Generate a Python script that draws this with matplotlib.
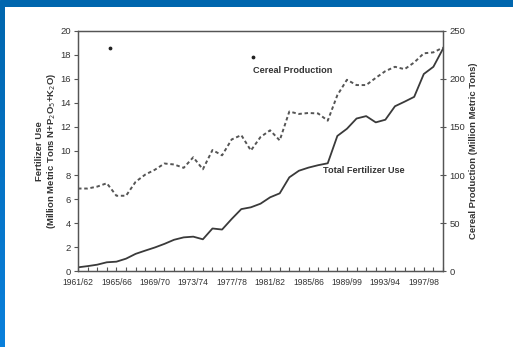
import numpy as np
import matplotlib
matplotlib.use("Agg")
import matplotlib.pyplot as plt
from matplotlib.ticker import MultipleLocator
from matplotlib.colors import LinearSegmentedColormap

plt.rcParams['font.family'] = ['Liberation Sans', 'DejaVu Sans']

# Crop years 1961/62 .. 1999/2000
years = list(range(1961, 2000))
tick_years = [1961, 1965, 1969, 1973, 1977, 1981, 1985, 1989, 1993, 1997]
tick_labels = ["1961/62", "1965/66", "1969/70", "1973/74", "1977/78",
               "1981/82", "1985/86", "1989/99", "1993/94", "1997/98"]

# Total fertilizer use (million metric tons N+P2O5+K2O)
fertilizer = [0.33, 0.43, 0.55, 0.75, 0.80, 1.05, 1.45, 1.72, 1.98, 2.28,
              2.62, 2.82, 2.88, 2.66, 3.56, 3.47, 4.35, 5.17, 5.32, 5.62,
              6.15, 6.48, 7.81, 8.36, 8.62, 8.82, 8.98, 11.25, 11.85, 12.70,
              12.90, 12.38, 12.60, 13.72, 14.10, 14.50, 16.40, 17.00, 18.50]

# Cereal production (million metric tons)
cereal = [86.0, 86.0, 88.0, 91.5, 78.5, 78.5, 93.0, 100.5, 105.5, 112.0,
          111.0, 107.5, 118.5, 106.0, 126.0, 120.5, 137.0, 141.5, 125.5, 139.5,
          146.5, 136.0, 166.0, 163.5, 164.5, 164.0, 156.5, 183.0, 199.0, 193.5,
          193.5, 201.0, 208.0, 212.5, 210.0, 217.0, 226.5, 227.5, 232.5]

fig = plt.figure(figsize=(5.13, 3.47), dpi=100)
fig.patch.set_facecolor("white")

# Blue slide frame: top band and left band with a light gradient
top_ax = fig.add_axes([0, 1 - 7 / 347, 1, 7 / 347])
top_ax.axis("off")
top_ax.add_patch(plt.Rectangle((0, 0), 1, 1, color="#0066ae", transform=top_ax.transAxes))
left_ax = fig.add_axes([0, 0, 5 / 513, 1 - 7 / 347])
grad = np.linspace(0, 1, 256).reshape(-1, 1)
cmap = LinearSegmentedColormap.from_list("frame", ["#0066ae", "#0a80dc"])
left_ax.imshow(grad, aspect="auto", cmap=cmap, extent=[0, 1, 0, 1], origin="upper")
left_ax.axis("off")

ax = fig.add_axes([78 / 513, 75.7 / 347, 365 / 513, 240.6 / 347])
ink = "#333333"

x = np.array(years)
ax.plot(x, fertilizer, color="#3a3a3a", lw=1.3, solid_joinstyle="round")
ax.set_xlim(1961, 1999)
ax.set_ylim(0, 20)

ax2 = ax.twinx()
ax2.plot(x, cereal, color="#555555", lw=1.4, linestyle=(0, (1.8, 1.4)))
ax2.set_ylim(0, 250)

# stray print specks
ax.scatter([1964.3, 1979.2], [18.6, 17.8], s=3, color="#222222", zorder=5)

for a in (ax, ax2):
    for s in a.spines.values():
        s.set_color("#555555")
        s.set_linewidth(0.9)

ax.yaxis.set_major_locator(MultipleLocator(2))
ax.set_xticks(tick_years)
ax.set_xticklabels(tick_labels)
ax.xaxis.set_minor_locator(MultipleLocator(1))
ax.tick_params(axis="x", which="both", direction="in", length=3, width=0.8,
               color="#555555", labelsize=6.2, labelcolor=ink, pad=5)
ax.tick_params(axis="y", direction="out", length=3, width=0.8, color="#555555",
               labelsize=6.8, labelcolor=ink, pad=2)
ax2.yaxis.set_major_locator(MultipleLocator(50))
ax2.tick_params(axis="y", direction="inout", length=5, width=0.8, color="#555555",
                labelsize=6.8, labelcolor=ink, pad=2)

ax.set_ylabel("Fertilizer Use\n(Million Metric Tons N+P$_2$O$_5$+K$_2$O)",
              fontsize=6.8, fontweight="bold", color=ink, labelpad=2, linespacing=1.1)
ax2.set_ylabel("Cereal Production (Million Metric Tons)", fontsize=6.8,
               fontweight="bold", color=ink, labelpad=3)

ax.text(1979.2, 16.7, "Cereal Production", fontsize=6.6, fontweight="bold",
        color=ink, va="center", ha="left")
ax.text(1986.5, 8.42, "Total Fertilizer Use", fontsize=6.6, fontweight="bold",
        color=ink, va="center", ha="left")

fig.savefig("out.png", dpi=100)
